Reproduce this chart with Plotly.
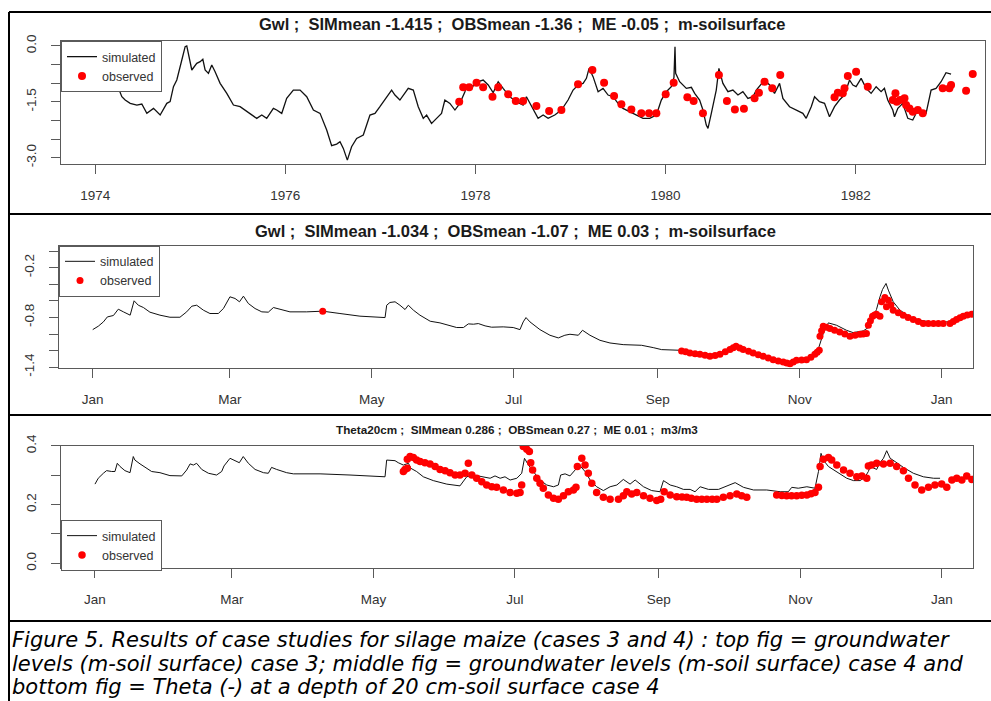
import plotly.graph_objects as go

# ---------------- Panel 1: groundwater level, case 3 (decimal years, m-soilsurface)
p1_sim_year = [1974.00, 1974.10, 1974.20, 1974.245, 1974.280, 1974.315, 1974.368, 1974.438, 1974.490, 1974.543,
               1974.613, 1974.683, 1974.753, 1974.788, 1974.823, 1974.858, 1974.911, 1974.946, 1974.963, 1974.981,
               1975.016, 1975.068, 1975.104, 1975.132, 1975.156, 1975.191, 1975.226, 1975.261, 1975.314, 1975.384,
               1975.454, 1975.524, 1975.594, 1975.699, 1975.752, 1975.804, 1975.874, 1975.909, 1975.962, 1976.014,
               1976.084, 1976.155, 1976.225, 1976.295, 1976.365, 1976.435, 1976.487, 1976.540, 1976.575, 1976.610,
               1976.652, 1976.697, 1976.750, 1976.820, 1976.890, 1976.943, 1976.995, 1977.065, 1977.118, 1977.153,
               1977.205, 1977.293, 1977.346, 1977.398, 1977.451, 1977.486, 1977.538, 1977.591, 1977.643, 1977.678,
               1977.731, 1977.784, 1977.836, 1977.889, 1977.906, 1977.976, 1978.029, 1978.081, 1978.134, 1978.186,
               1978.239, 1978.291, 1978.361, 1978.431, 1978.501, 1978.536, 1978.589, 1978.659, 1978.712, 1978.764,
               1978.834, 1978.904, 1978.974, 1979.027, 1979.079, 1979.132, 1979.167, 1979.195, 1979.237, 1979.290,
               1979.342, 1979.395, 1979.447, 1979.500, 1979.552, 1979.622, 1979.692, 1979.763, 1979.833, 1979.903,
               1979.955, 1980.008, 1980.060, 1980.088, 1980.099, 1980.106, 1980.148, 1980.218, 1980.271, 1980.306,
               1980.358, 1980.393, 1980.428, 1980.446, 1980.481, 1980.533, 1980.561, 1980.603, 1980.656, 1980.708,
               1980.761, 1980.813, 1980.866, 1980.919, 1980.954, 1981.006, 1981.041, 1981.094, 1981.146, 1981.199,
               1981.234, 1981.304, 1981.374, 1981.444, 1981.479, 1981.532, 1981.567, 1981.619, 1981.672, 1981.724,
               1981.777, 1981.829, 1981.882, 1981.935, 1981.970, 1982.004, 1982.057, 1982.110, 1982.162, 1982.215,
               1982.267, 1982.302, 1982.337, 1982.390, 1982.408, 1982.443, 1982.495, 1982.548, 1982.600, 1982.653,
               1982.705, 1982.740, 1982.793, 1982.845, 1982.898, 1982.950, 1983.003]
p1_sim_gwl = [-0.75, -0.90, -1.05, -1.138, -1.362, -1.452, -1.541, -1.586, -1.559, -1.810,
              -1.676, -1.855, -1.541, -1.496, -1.093, -0.914, -0.376, -0.018, 0.0, -0.197,
              -0.645, -0.466, -0.421, -0.358, -0.645, -0.735, -0.511, -0.690, -1.004, -1.272,
              -1.586, -1.631, -1.765, -1.944, -1.855, -1.944, -1.676, -1.720, -1.810, -1.407,
              -1.183, -1.183, -1.362, -1.720, -1.810, -2.258, -2.679, -2.634, -2.572, -2.751,
              -3.065, -2.706, -2.482, -2.392, -1.855, -1.810, -1.631, -1.362, -1.183, -1.317,
              -1.452, -1.138, -1.183, -1.631, -1.944, -1.855, -2.079, -1.944, -1.810, -1.452,
              -1.541, -1.720, -1.541, -1.228, -1.075, -1.075, -0.959, -0.914, -1.048, -1.254,
              -0.959, -1.138, -1.362, -1.496, -1.586, -1.362, -1.631, -1.944, -1.855, -1.944,
              -1.855, -1.720, -1.452, -1.183, -1.048, -1.004, -0.869, -0.600, -0.824, -1.228,
              -1.138, -1.317, -1.362, -1.541, -1.676, -1.765, -1.855, -1.944, -1.944, -1.855,
              -1.452, -1.228, -1.093, -0.842, -0.018, -0.735, -0.959, -1.138, -1.111, -1.272,
              -1.452, -1.720, -2.124, -2.213, -1.810, -1.183, -0.600, -1.004, -1.228, -1.183,
              -1.317, -1.228, -1.407, -1.362, -1.183, -1.004, -0.914, -1.048, -1.272, -1.004,
              -1.407, -1.631, -1.720, -1.810, -1.944, -1.631, -1.362, -1.496, -1.541, -1.900,
              -1.631, -1.452, -1.317, -0.914, -1.048, -1.093, -0.869, -1.138, -1.272, -1.093,
              -1.228, -1.138, -1.452, -1.720, -1.900, -1.676, -1.541, -1.944, -1.989, -1.720,
              -1.855, -1.810, -1.183, -1.138, -0.959, -0.717, -0.753]
p1_obs_year = [1977.829, 1977.871, 1977.934, 1978.011, 1978.081, 1978.179, 1978.239, 1978.344, 1978.424, 1978.501,
               1978.641, 1978.775, 1978.904, 1979.079, 1979.230, 1979.353, 1979.458, 1979.535, 1979.640, 1979.745,
               1979.826, 1979.903, 1980.001, 1980.085, 1980.229, 1980.295, 1980.393, 1980.561, 1980.645, 1980.729,
               1980.824, 1980.936, 1980.982, 1981.041, 1981.122, 1981.206, 1981.777, 1981.812, 1981.864, 1981.882,
               1981.917, 1982.004, 1982.127, 1982.390, 1982.418, 1982.432, 1982.467, 1982.513, 1982.530, 1982.565,
               1982.600, 1982.653, 1982.705, 1982.915, 1982.985, 1983.003, 1983.161, 1983.231]
p1_obs_gwl = [-1.496, -1.111, -1.111, -0.986, -1.111, -1.362, -1.111, -1.299, -1.478, -1.478,
              -1.613, -1.747, -1.720, -1.030, -0.645, -0.986, -1.344, -1.568, -1.703, -1.810,
              -1.810, -1.810, -1.299, -0.986, -1.380, -1.478, -1.810, -0.780, -1.478, -1.703,
              -1.685, -1.407, -1.254, -0.959, -1.138, -0.780, -1.380, -1.254, -1.272, -1.138,
              -0.806, -0.690, -1.093, -1.452, -1.272, -1.496, -1.452, -1.407, -1.586, -1.676,
              -1.765, -1.720, -1.810, -1.138, -1.138, -1.048, -1.201, -0.753]
p1_year_ticks = [1974, 1976, 1978, 1980, 1982]
p1_gwl_ticks = [0.0, -0.5, -1.0, -1.5, -2.0, -2.5, -3.0]
p1_gwl_labels = ["0.0", "", "", "-1.5", "", "", "-3.0"]

# ---------------- Panel 2: groundwater level, case 4 (day of year, m-soilsurface)
p2_sim_day = [0, 2.4, 4.6, 6.3, 8.9, 11.0, 13.2, 16.1, 17.8, 19.6, 21.8, 24.6, 28.9, 33.2, 37.5, 40.4, 42.6, 44.7,
              47.6, 50.4, 54.0, 56.2, 59.0, 61.2, 63.1, 64.8, 66.9, 69.8, 72.7, 75.5, 77.7, 80.5, 84.8, 92.0,
              98.9, 106.3, 114.9, 125.7, 126.4, 127.8, 130.0, 132.1, 134.3, 135.7, 137.9, 140.7, 145.1, 149.3,
              152.9, 156.5, 159.4, 161.5, 163.7, 165.8, 168.7, 171.5, 176.5, 180.8, 183.7, 185.1, 186.3, 188.0,
              192.3, 196.6, 200.2, 203.0, 205.2, 208.8, 210.6, 213.8, 218.1, 222.4, 228.1, 236.0, 241.0, 244.6,
              252.5, 259.6, 265.4, 271.1, 276.1, 279.7, 285.5, 292.6, 298.3, 304.1, 308.4, 311.9, 314.1, 316.3,
              319.8, 324.1, 326.9, 331.3, 333.5, 335.6, 337.0, 338.5, 339.6, 341.1, 342.1, 344.2, 347.1, 351.4,
              355.7, 360.0, 364.3, 368.6, 372.9, 377.9]
p2_sim_gwl = [-0.947, -0.906, -0.854, -0.794, -0.777, -0.701, -0.733, -0.773, -0.600, -0.653, -0.681, -0.737,
              -0.773, -0.798, -0.798, -0.733, -0.665, -0.653, -0.713, -0.753, -0.753, -0.693, -0.552, -0.572,
              -0.612, -0.544, -0.632, -0.693, -0.733, -0.737, -0.681, -0.705, -0.733, -0.733, -0.725, -0.753,
              -0.785, -0.802, -0.653, -0.620, -0.612, -0.653, -0.705, -0.653, -0.713, -0.773, -0.846, -0.866,
              -0.894, -0.922, -0.922, -0.878, -0.882, -0.874, -0.902, -0.918, -0.914, -0.922, -0.947, -0.854,
              -0.802, -0.854, -0.947, -1.015, -1.047, -1.015, -1.003, -1.015, -0.955, -1.015, -1.076, -1.108,
              -1.128, -1.136, -1.164, -1.188, -1.196, -1.229, -1.249, -1.217, -1.156, -1.196, -1.245, -1.305,
              -1.337, -1.317, -1.277, -1.188, -0.995, -0.866, -0.894, -0.955, -0.983, -0.963, -0.922, -0.785,
              -0.705, -0.552, -0.463, -0.391, -0.471, -0.612, -0.713, -0.794, -0.834, -0.854, -0.854, -0.854,
              -0.802, -0.761]
p2_obs_day = [98.9, 253.2, 255.0, 256.8, 259.0, 261.1, 263.3, 265.4, 267.6, 269.7, 272.0, 274.0, 275.4, 276.6,
              278.2, 279.7, 282.0, 284.0, 286.2, 288.3, 290.5, 292.6, 294.8, 296.9, 298.4, 299.8, 301.2, 302.6,
              304.8, 306.9, 308.8, 310.5, 311.5, 312.4, 312.7, 313.4, 314.1, 315.5, 317.0, 319.0, 321.2, 323.4,
              325.6, 327.8, 329.9, 331.3, 332.7, 333.5, 334.4, 335.3, 336.2, 337.0, 338.5, 339.2, 340.6, 341.3,
              342.1, 343.2, 344.2, 346.4, 348.5, 350.6, 352.8, 355.0, 357.1, 359.3, 361.5, 363.6, 365.7, 368.6,
              370.0, 371.4, 372.9, 374.3, 376.0, 377.9]
p2_obs_gwl = [-0.725, -1.204, -1.215, -1.229, -1.237, -1.245, -1.257, -1.269, -1.258, -1.245, -1.215, -1.188,
              -1.165, -1.148, -1.168, -1.188, -1.208, -1.229, -1.250, -1.269, -1.290, -1.309, -1.325, -1.337,
              -1.348, -1.358, -1.338, -1.317, -1.313, -1.309, -1.280, -1.245, -1.220, -1.196, -1.027, -0.960,
              -0.906, -0.920, -0.935, -0.955, -0.975, -1.000, -1.027, -1.015, -1.003, -0.999, -0.995, -0.894,
              -0.840, -0.785, -0.770, -0.761, -0.785, -0.612, -0.560, -0.673, -0.592, -0.650, -0.713, -0.745,
              -0.773, -0.800, -0.826, -0.850, -0.874, -0.874, -0.874, -0.874, -0.874, -0.874, -0.850, -0.826,
              -0.805, -0.785, -0.772, -0.761]
month_days = [0, 59, 120, 181, 243, 304, 365]
month_labels = ["Jan", "Mar", "May", "Jul", "Sep", "Nov", "Jan"]
p2_gwl_ticks = [0.0, -0.2, -0.4, -0.6, -0.8, -1.0, -1.2, -1.4]
p2_gwl_labels = ["", "-0.2", "", "", "-0.8", "", "", "-1.4"]

# ---------------- Panel 3: theta at 20 cm, case 4 (day of year, m3/m3)
p3_sim_day = [0, 1.4, 3.6, 5.0, 7.2, 8.6, 9.6, 10.8, 12.9, 15.1, 16.5, 17.2, 19.4, 22.3, 24.4, 28.0, 32.3, 37.4,
              39.5, 41.0, 42.4, 43.8, 46.0, 48.9, 52.4, 54.6, 55.6, 58.2, 60.3, 62.2, 63.9, 66.1, 69.0, 72.6, 74.7,
              76.1, 78.3, 82.6, 85.5, 97.0, 109.9, 125.0, 125.7, 129.3, 130.7, 132.9, 135.1, 136.1, 138.6, 141.5,
              145.8, 151.6, 157.3, 158.8, 160.2, 163.1, 167.4, 170.3, 172.4, 174.6, 176.7, 178.9, 181.8, 183.9,
              185.1, 186.8, 188.9, 191.8, 194.7, 197.6, 199.7, 200.7, 202.6, 204.7, 206.9, 208.8, 211.2, 213.4,
              216.2, 219.1, 222.0, 224.9, 227.7, 230.6, 232.8, 236.4, 239.9, 243.5, 245.0, 247.9, 250.7, 253.6,
              256.5, 258.6, 260.8, 264.4, 268.7, 272.3, 275.9, 279.5, 283.8, 289.5, 295.3, 298.8, 300.3, 303.1,
              306.8, 310.3, 311.8, 312.9, 313.9, 316.1, 319.7, 324.0, 326.9, 329.8, 331.9, 333.3, 334.1, 336.9,
              338.1, 339.8, 341.2, 342.7, 344.8, 348.4, 352.7, 357.0, 361.4, 364.2]
p3_sim_theta = [0.270, 0.290, 0.307, 0.316, 0.313, 0.313, 0.341, 0.330, 0.316, 0.309, 0.364, 0.352, 0.339, 0.324,
                0.313, 0.309, 0.299, 0.298, 0.318, 0.339, 0.335, 0.341, 0.320, 0.307, 0.301, 0.313, 0.332, 0.358,
                0.350, 0.343, 0.364, 0.341, 0.320, 0.309, 0.307, 0.327, 0.320, 0.309, 0.305, 0.305, 0.301, 0.295,
                0.352, 0.350, 0.343, 0.335, 0.341, 0.324, 0.313, 0.295, 0.282, 0.270, 0.264, 0.278, 0.295, 0.301,
                0.295, 0.290, 0.298, 0.290, 0.295, 0.284, 0.290, 0.307, 0.358, 0.335, 0.313, 0.284, 0.267, 0.261,
                0.267, 0.301, 0.305, 0.298, 0.318, 0.335, 0.313, 0.284, 0.261, 0.248, 0.261, 0.267, 0.286, 0.270,
                0.284, 0.261, 0.248, 0.244, 0.282, 0.267, 0.261, 0.252, 0.252, 0.244, 0.261, 0.252, 0.252, 0.264,
                0.275, 0.259, 0.250, 0.250, 0.244, 0.244, 0.259, 0.256, 0.261, 0.256, 0.313, 0.375, 0.352, 0.330,
                0.313, 0.290, 0.282, 0.282, 0.295, 0.313, 0.330, 0.320, 0.341, 0.358, 0.384, 0.358, 0.347, 0.327,
                0.307, 0.295, 0.290, 0.290]
p3_obs_day = [132.9, 133.6, 134.6, 134.6, 135.8, 137.2, 138.6, 140.1, 142.2, 144.4, 146.6, 148.7, 150.9, 153.0,
              155.2, 157.3, 159.5, 160.9, 162.4, 164.5, 166.7, 168.8, 171.0, 173.1, 176.0, 178.9, 181.8, 183.2,
              183.9, 184.6, 186.1, 187.2, 187.8, 188.6, 190.4, 191.8, 193.2, 195.4, 197.6, 199.7, 201.9, 204.0,
              206.2, 207.3, 207.9, 209.8, 211.2, 212.6, 214.1, 216.2, 219.1, 222.0, 225.6, 227.7, 229.2, 231.3,
              233.5, 236.4, 239.2, 242.1, 243.8, 245.3, 247.9, 250.7, 253.0, 255.0, 257.0, 259.3, 261.5, 263.7,
              266.0, 268.0, 270.8, 273.7, 276.6, 278.7, 280.9, 293.8, 296.0, 298.1, 300.2, 302.4, 304.6, 306.8,
              308.6, 310.3, 311.8, 312.5, 313.9, 316.1, 317.5, 319.7, 322.6, 325.4, 328.3, 330.5, 332.6, 333.3,
              334.7, 336.9, 339.8, 342.7, 345.5, 348.4, 350.6, 353.4, 356.3, 359.2, 362.0, 364.9, 367.1, 369.3,
              371.4, 373.6, 375.7, 377.9]
p3_obs_theta = [0.313, 0.320, 0.324, 0.355, 0.364, 0.361, 0.352, 0.347, 0.343, 0.339, 0.330, 0.320, 0.316, 0.309,
                0.301, 0.301, 0.307, 0.341, 0.301, 0.290, 0.278, 0.267, 0.261, 0.259, 0.250, 0.241, 0.239, 0.241,
                0.267, 0.398, 0.389, 0.381, 0.343, 0.318, 0.290, 0.273, 0.256, 0.233, 0.222, 0.218, 0.230, 0.244,
                0.250, 0.259, 0.330, 0.358, 0.335, 0.307, 0.273, 0.241, 0.225, 0.218, 0.218, 0.230, 0.244, 0.236,
                0.241, 0.230, 0.222, 0.214, 0.218, 0.244, 0.233, 0.227, 0.226, 0.225, 0.222, 0.218, 0.218, 0.218,
                0.218, 0.218, 0.225, 0.230, 0.236, 0.230, 0.225, 0.233, 0.231, 0.230, 0.230, 0.230, 0.232, 0.233,
                0.237, 0.241, 0.259, 0.330, 0.355, 0.361, 0.352, 0.335, 0.318, 0.307, 0.295, 0.298, 0.290, 0.332,
                0.335, 0.341, 0.339, 0.341, 0.330, 0.316, 0.290, 0.267, 0.250, 0.259, 0.267, 0.270, 0.259, 0.284,
                0.290, 0.284, 0.298, 0.286]
p3_theta_ticks = [0.0, 0.1, 0.2, 0.3, 0.4]
p3_theta_labels = ["0.0", "", "0.2", "", "0.4"]

NB = "\u00a0"
titles = ["Gwl ;" + NB + " SIMmean -1.415 ;" + NB + " OBSmean -1.36 ;" + NB + " ME -0.05 ;" + NB + " m-soilsurface",
          "Gwl ;" + NB + " SIMmean -1.034 ;" + NB + " OBSmean -1.07 ;" + NB + " ME 0.03 ;" + NB + " m-soilsurface",
          "Theta20cm ;" + NB + " SIMmean 0.286 ;" + NB + " OBSmean 0.27 ;" + NB + " ME 0.01 ;" + NB + " m3/m3"]
caption_lines = ["Figure 5. Results of case studies for silage maize (cases 3 and 4) : top fig = groundwater",
                 "levels (m-soil surface) case 3; middle fig = groundwater levels (m-soil surface) case 4 and",
                 "bottom fig = Theta (-) at a depth of 20 cm-soil surface case 4"]

W, H = 991, 701
FONT = "Liberation Sans, Arial, sans-serif"
AX = "#5a5a5a"
TXT = "#333333"


def px(x):
    return x / W


def py(y):
    return 1 - y / H


fig = go.Figure()

fig.add_trace(go.Scatter(x=p1_sim_year, y=p1_sim_gwl, mode="lines", name="simulated",
                         line=dict(color="#111111", width=1.3), xaxis="x", yaxis="y", legend="legend"))
fig.add_trace(go.Scatter(x=p1_obs_year, y=p1_obs_gwl, mode="markers", name="observed",
                         marker=dict(color="#ff0000", size=8), xaxis="x", yaxis="y", legend="legend"))
fig.add_trace(go.Scatter(x=p2_sim_day, y=p2_sim_gwl, mode="lines", name="simulated",
                         line=dict(color="#111111", width=1), xaxis="x2", yaxis="y2", legend="legend2"))
fig.add_trace(go.Scatter(x=p2_obs_day, y=p2_obs_gwl, mode="markers", name="observed",
                         marker=dict(color="#ff0000", size=7), xaxis="x2", yaxis="y2", legend="legend2"))
fig.add_trace(go.Scatter(x=p3_sim_day, y=p3_sim_theta, mode="lines", name="simulated",
                         line=dict(color="#111111", width=1), xaxis="x3", yaxis="y3", legend="legend3"))
fig.add_trace(go.Scatter(x=p3_obs_day, y=p3_obs_theta, mode="markers", name="observed",
                         marker=dict(color="#ff0000", size=7.5), xaxis="x3", yaxis="y3", legend="legend3"))

common_x = dict(showgrid=False, zeroline=False, showline=True, mirror=True, linecolor=AX, linewidth=1,
                ticks="outside", ticklen=9, tickcolor=AX, tickwidth=1, automargin=False,
                tickfont=dict(family=FONT, size=13.5, color=TXT), ticklabelstandoff=10)
common_y = dict(showgrid=False, zeroline=False, showline=True, mirror=True, linecolor=AX, linewidth=1,
                ticks="outside", ticklen=9, tickcolor=AX, tickwidth=1, tickangle=-90, automargin=False,
                tickfont=dict(family=FONT, size=13.5, color=TXT), ticklabelstandoff=10)

legend_common = dict(bgcolor="white", bordercolor=AX, borderwidth=1, xanchor="left", yanchor="top",
                     font=dict(family=FONT, size=12.5, color=TXT), itemwidth=30, tracegroupgap=0)

fig.update_layout(
    width=W, height=H, margin=dict(l=0, r=0, t=0, b=0, autoexpand=False),
    paper_bgcolor="white", plot_bgcolor="white",
    xaxis=dict(common_x, domain=[px(61), px(985)], range=[1973.64, 1983.36], anchor="y",
               tickvals=p1_year_ticks, ticktext=[str(v) for v in p1_year_ticks]),
    yaxis=dict(common_y, domain=[py(164), py(41)], range=[-3.17, 0.134], anchor="x",
               tickvals=p1_gwl_ticks, ticktext=p1_gwl_labels),
    xaxis2=dict(common_x, domain=[px(59), px(973)], range=[-14.5, 378.5], anchor="y2",
                tickvals=month_days, ticktext=month_labels),
    yaxis2=dict(common_y, domain=[py(367.7), py(245.7)], range=[-1.406, 0.064], anchor="x2",
                tickvals=p2_gwl_ticks, ticktext=p2_gwl_labels),
    xaxis3=dict(common_x, domain=[px(61), px(973)], range=[-14.65, 378.4], anchor="y3",
                tickvals=month_days, ticktext=month_labels),
    yaxis3=dict(common_y, domain=[py(567.7), py(445.7)], range=[-0.015, 0.401], anchor="x3",
                tickvals=p3_theta_ticks, ticktext=p3_theta_labels),
    legend=dict(legend_common, x=px(61), y=py(41)),
    legend2=dict(legend_common, x=px(59), y=py(245.7)),
    legend3=dict(legend_common, x=px(61), y=py(520)),
    showlegend=True,
)

# panel titles
for txt, xc, yc, fs in [(titles[0], 522, 24, 16.5), (titles[1], 515, 231, 16.5), (titles[2], 517, 429, 11.7)]:
    fig.add_annotation(text="<b>" + txt + "</b>", xref="paper", yref="paper", x=px(xc), y=py(yc),
                       showarrow=False, xanchor="center", yanchor="middle",
                       font=dict(family=FONT, size=fs, color="#1a1a1a"))

# caption
for line, yc in zip(caption_lines, [640, 663.5, 687]):
    fig.add_annotation(text="<i>" + line + "</i>", xref="paper", yref="paper", x=px(11), y=py(yc),
                       showarrow=False, xanchor="left", yanchor="middle", borderpad=0,
                       font=dict(family="DejaVu Sans, Liberation Sans, sans-serif", size=21, color="#000000"))

# document frame lines
frame = dict(type="line", xref="paper", yref="paper", line=dict(color="black", width=2))
fig.add_shape(frame, x0=px(9), x1=px(9), y0=0, y1=py(12))
for yl in [12, 214, 415, 621]:
    fig.add_shape(frame, x0=px(9), x1=1, y0=py(yl), y1=py(yl))

fig.write_html("out.html")
